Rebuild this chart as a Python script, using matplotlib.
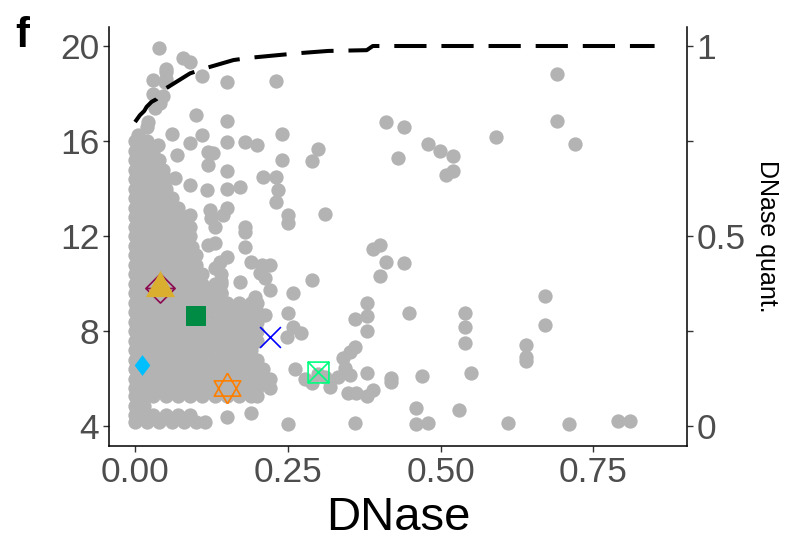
import matplotlib
matplotlib.use("Agg")
import matplotlib.pyplot as plt
from matplotlib.path import Path

plt.rcParams['font.family'] = ['Liberation Sans', 'DejaVu Sans']

# ---------------- data ----------------
# dense cloud of grey points, row by row (y value, list of DNase x values)
blob_row_y = [4.15, 4.45, 4.85, 5.25, 5.6, 6.0, 6.4, 6.8, 7.2, 7.6, 8.0, 8.4, 8.8, 9.2,
              9.6, 10.0, 10.4, 10.8, 11.2, 11.6, 12.0, 12.4, 12.8, 13.2, 13.6, 14.0,
              14.4, 14.8, 15.2, 15.6, 16.0]
blob_row_x = [
    [0.0, 0.02, 0.04, 0.06, 0.08, 0.10, 0.115],
    [0.0, 0.01, 0.03, 0.05, 0.07, 0.09],
    [0.0, 0.015],
    [0.0, 0.01, 0.03, 0.05, 0.07, 0.09, 0.11, 0.13, 0.15, 0.17, 0.19, 0.20],
    [0.0, 0.02, 0.04, 0.06, 0.08, 0.10, 0.12, 0.14, 0.16, 0.18, 0.20, 0.22],
    [0.0, 0.01, 0.03, 0.05, 0.07, 0.09, 0.11, 0.13, 0.15, 0.17, 0.19, 0.21, 0.22],
    [0.0, 0.02, 0.04, 0.06, 0.08, 0.10, 0.12, 0.14, 0.16, 0.18, 0.20, 0.21],
    [0.0, 0.01, 0.03, 0.05, 0.07, 0.09, 0.11, 0.13, 0.15, 0.17, 0.19, 0.20],
    [0.0, 0.02, 0.04, 0.06, 0.08, 0.10, 0.12, 0.14, 0.16, 0.18, 0.19],
    [0.0, 0.01, 0.03, 0.05, 0.07, 0.09, 0.11, 0.13, 0.15, 0.17, 0.19, 0.20],
    [0.0, 0.02, 0.04, 0.06, 0.08, 0.10, 0.12, 0.14, 0.16, 0.18, 0.20],
    [0.0, 0.01, 0.03, 0.05, 0.07, 0.09, 0.11, 0.13, 0.15, 0.17, 0.19, 0.20],
    [0.0, 0.02, 0.04, 0.06, 0.08, 0.10, 0.12, 0.14, 0.16, 0.18, 0.20],
    [0.0, 0.01, 0.03, 0.05, 0.07, 0.09, 0.11, 0.13, 0.15, 0.17, 0.19, 0.20],
    [0.0, 0.02, 0.04, 0.06, 0.08, 0.10, 0.12, 0.14],
    [0.0, 0.01, 0.03, 0.05, 0.07, 0.09, 0.11, 0.13, 0.14],
    [0.0, 0.02, 0.04, 0.06, 0.08, 0.10, 0.11],
    [0.0, 0.01, 0.03, 0.05, 0.07, 0.09, 0.10],
    [0.0, 0.02, 0.04, 0.06, 0.08, 0.10],
    [0.0, 0.01, 0.03, 0.05, 0.07, 0.09],
    [0.0, 0.02, 0.04, 0.06, 0.08, 0.09],
    [0.0, 0.01, 0.03, 0.05, 0.07, 0.09],
    [0.0, 0.02, 0.04, 0.06, 0.08],
    [0.0, 0.01, 0.03, 0.05, 0.07],
    [0.0, 0.02, 0.04, 0.06],
    [0.0, 0.01, 0.03, 0.05],
    [0.0, 0.02, 0.04, 0.05],
    [0.0, 0.01, 0.03, 0.045],
    [0.0, 0.02, 0.04],
    [0.0, 0.01, 0.03],
    [0.0, 0.02],
]

# scattered grey points (DNase, score)
sparse_x = [0.005, 0.019, 0.022, 0.033, 0.041, 0.03, 0.045, 0.03, 0.049, 0.05, 0.05, 0.05, 0.04,
            0.079, 0.09, 0.109, 0.15, 0.23, 0.10, 0.15, 0.06, 0.11, 0.09, 0.15, 0.18, 0.20, 0.24,
            0.30, 0.289, 0.24, 0.15, 0.12, 0.128, 0.068, 0.038,
            0.12, 0.21, 0.23, 0.234, 0.23, 0.172, 0.15, 0.117, 0.09, 0.065, 0.25, 0.25, 0.31,
            0.15, 0.144, 0.123, 0.125, 0.131, 0.09, 0.18, 0.18, 0.12, 0.131, 0.18, 0.093, 0.15,
            0.139, 0.131, 0.19, 0.207, 0.22, 0.204, 0.212, 0.172, 0.289, 0.259, 0.196, 0.22,
            0.14, 0.14, 0.14,
            0.25, 0.259, 0.272, 0.248, 0.212, 0.261, 0.278, 0.289, 0.19, 0.15, 0.25,
            0.69, 0.69, 0.72, 0.59, 0.41, 0.44, 0.43, 0.479, 0.4995, 0.52, 0.52, 0.509,
            0.40, 0.389, 0.41, 0.44, 0.40, 0.67, 0.67, 0.38, 0.38, 0.36, 0.38, 0.449, 0.54,
            0.54, 0.54, 0.64, 0.64, 0.64, 0.36, 0.351, 0.34, 0.343, 0.351, 0.332, 0.319, 0.38,
            0.419, 0.419, 0.47, 0.55, 0.349, 0.362, 0.38, 0.39, 0.46, 0.53, 0.36, 0.46, 0.479,
            0.61, 0.71, 0.79, 0.81, 0.30, 0.31]
sparse_y = [16.25, 16.6, 16.8, 17.4, 17.6, 18.0, 17.9, 18.57, 18.5, 18.6, 18.9, 19.05, 19.9,
            19.48, 19.34, 18.75, 18.5, 18.54, 17.1, 16.84, 16.3, 16.25, 15.9, 15.94, 15.94, 15.83, 16.28,
            15.66, 15.16, 15.2, 14.75, 15.55, 15.48, 15.41, 15.83,
            14.99, 14.5, 14.5, 13.94, 13.44, 14.08, 14.0, 13.94, 14.15, 14.43, 12.88, 12.53, 12.93,
            13.17, 12.88, 13.09, 12.75, 12.39, 12.88, 12.39, 12.18, 11.62, 11.72, 11.52, 11.55, 11.13,
            10.92, 10.64, 10.92, 10.78, 10.78, 10.43, 10.22, 10.08, 10.15, 9.61, 9.44, 9.73,
            10.4, 10.1, 9.6,
            8.74, 8.18, 7.9, 7.76, 8.67, 6.4, 5.98, 5.8, 4.53, 4.37, 4.07,
            18.81, 16.86, 15.86, 16.18, 16.79, 16.6, 15.3, 15.87, 15.59, 15.37, 14.74, 14.57,
            11.62, 11.44, 10.89, 10.85, 10.33, 9.47, 8.25, 9.19, 8.63, 8.51, 8.0, 8.77, 8.74,
            8.18, 7.48, 7.41, 6.92, 6.75, 7.34, 7.13, 6.85, 6.43, 6.15, 6.08, 5.66, 6.22,
            6.01, 5.87, 6.1, 6.24, 5.38, 5.38, 5.28, 5.52, 4.75, 4.67, 4.14, 4.07, 4.11,
            4.11, 4.08, 4.21, 4.21, 6.2, 6.05]

# DNase quantile curve (secondary axis)
quant_x = [0.0, 0.008, 0.015, 0.019, 0.027, 0.035, 0.046, 0.09, 0.114, 0.161, 0.188,
           0.234, 0.267, 0.316, 0.379, 0.389, 0.85]
quant_q = [0.80, 0.818, 0.829, 0.84, 0.853, 0.86, 0.884, 0.928, 0.941, 0.963, 0.969,
           0.976, 0.981, 0.987, 0.989, 1.0, 1.0]

# highlighted points
hl_x = [0.041, 0.041, 0.10, 0.22, 0.011, 0.151, 0.30]
hl_y = [9.82, 9.95, 8.63, 7.76, 6.57, 5.61, 6.26]
hl_kind = ['diamondplus', 'triangle', 'square', 'cross', 'diamond', 'star', 'squarecross']
hl_color = ['#8B0A50', '#DAAE2E', '#008B45', '#0000FF', '#00BFFF', '#FF7F00', '#00FF7F']

x_ticks = [0.0, 0.25, 0.5, 0.75]
x_tick_labels = ['0.00', '0.25', '0.50', '0.75']
y_ticks = [4, 8, 12, 16, 20]
q_ticks = [0, 0.25, 0.5, 0.75, 1]
q_tick_labels = ['0', '', '0.5', '', '1']

# ---------------- markers ----------------
M, L = Path.MOVETO, Path.LINETO
mk = {
    'diamondplus': Path([(0, 1), (1, 0), (0, -1), (-1, 0), (0, 1), (0, -1), (-1, 0), (1, 0)],
                        [M, L, L, L, L, M, M, L]),
    'triangle': Path([(0, 1), (1, -0.8), (-1, -0.8), (0, 1)], [M, L, L, L]),
    'diamond': Path([(0, 1), (0.75, 0), (0, -1), (-0.75, 0), (0, 1)], [M, L, L, L, L]),
    'cross': Path([(-1, -1), (1, 1), (-1, 1), (1, -1)], [M, L, M, L]),
    'star': Path([(0, 1), (0.866, -0.5), (-0.866, -0.5), (0, 1),
                  (0, -1), (0.866, 0.5), (-0.866, 0.5), (0, -1)],
                 [M, L, L, L, M, L, L, L]),
    'squarecross': Path([(-1, -1), (1, -1), (1, 1), (-1, 1), (-1, -1), (1, 1), (-1, 1), (1, -1)],
                        [M, L, L, L, L, L, M, L]),
}

# ---------------- figure ----------------
fig = plt.figure(figsize=(7.87, 5.39), dpi=100)
ax = fig.add_axes([109 / 787, 1 - 446 / 539, (687 - 109) / 787, (446 - 27) / 539])

bx, by = [], []
for yv, xs in zip(blob_row_y, blob_row_x):
    for xv in xs:
        bx.append(xv)
        by.append(yv)
ax.scatter(bx, by, s=106, color='#B3B3B3', linewidths=0, zorder=2)
ax.scatter(sparse_x, sparse_y, s=106, color='#B3B3B3', linewidths=0, zorder=2)

for xv, yv, kind, col in zip(hl_x, hl_y, hl_kind, hl_color):
    if kind == 'square':
        ax.plot([xv], [yv], marker='s', ms=14.5, color=col, mew=0, ls='none', zorder=5)
    elif kind in ('triangle', 'diamond'):
        ms = 21 if kind == 'triangle' else 15
        ax.plot([xv], [yv], marker=mk[kind], ms=ms, color=col, mew=0, ls='none', zorder=6)
    else:
        ms = {'diamondplus': 21, 'cross': 15, 'star': 22, 'squarecross': 15}[kind]
        ax.plot([xv], [yv], marker=mk[kind], ms=ms, mfc='none', mec=col, mew=1.2,
                ls='none', zorder=5)

ax.set_xlim(-0.0426, 0.903)
ax.set_ylim(3.158, 20.8)
ax.set_xticks(x_ticks)
ax.set_xticklabels(x_tick_labels)
ax.set_yticks(y_ticks)
for s in ['top', 'right']:
    ax.spines[s].set_visible(False)
for s in ['left', 'bottom']:
    ax.spines[s].set_linewidth(1.1)
    ax.spines[s].set_color('black')
ax.tick_params(axis='both', direction='out', length=4.5, width=1.0, color='#333333',
               labelsize=25.5, labelcolor='#4D4D4D', pad=2.5)
ax.set_xlabel('DNase', fontsize=34, color='black', labelpad=5)

ax2 = ax.twinx()
ax2.plot(quant_x, quant_q, color='black', lw=2.9, ls=(0, (8, 3.7)), zorder=4)
ax2.set_ylim((3.158 - 4) / 16, (20.8 - 4) / 16)
ax2.set_yticks(q_ticks)
ax2.set_yticklabels(q_tick_labels)
for s in ['top', 'left', 'bottom']:
    ax2.spines[s].set_visible(False)
ax2.spines['right'].set_linewidth(1.1)
ax2.tick_params(axis='y', direction='out', length=4.5, width=1.0, color='#333333',
                labelsize=25.5, labelcolor='#4D4D4D', pad=2.5)
ax2.set_ylabel('DNase quant.', fontsize=18, rotation=-90, labelpad=24, color='black')

fig.text(15 / 787, 1 - 47 / 539, 'f', fontsize=30, fontweight='bold', color='black')

fig.savefig('out.png', dpi=100)
